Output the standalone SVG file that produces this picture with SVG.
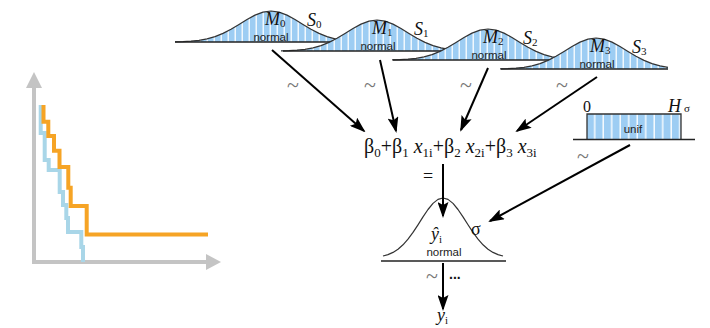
<svg xmlns="http://www.w3.org/2000/svg" xmlns:xlink="http://www.w3.org/1999/xlink" width="710" height="328" viewBox="0 0 710 328">
<style>
.curve{fill:none;stroke:#333;stroke-width:1.2;stroke-linejoin:round}
.bfill{fill:url(#stripes);stroke:none}
.base{stroke:#222;stroke-width:1.4}
.it{font-family:"Liberation Serif",serif;font-style:italic;font-size:18px;fill:#111}
.sub{font-family:"Liberation Serif",serif;font-style:normal;font-size:11px;fill:#111}
.lbl{font-family:"Liberation Sans",Arial,sans-serif;font-size:11.5px;fill:#222;text-anchor:middle}
.tl{font-family:"Liberation Serif",serif;font-size:22px;fill:#777;text-anchor:middle}
.arr{stroke:#000;stroke-width:2;fill:none;marker-end:url(#ah)}
.ax{stroke:#c4c4c4;stroke-width:4;fill:none}
</style>
<defs>
<pattern id="stripes" width="7" height="40" patternUnits="userSpaceOnUse"><rect width="7" height="40" fill="#9dcdf3"/><rect x="5.5" width="1.5" height="40" fill="#fff" opacity="0.85"/></pattern>
<pattern id="stripes2" x="587" width="8.5" height="40" patternUnits="userSpaceOnUse"><rect width="8.5" height="40" fill="#9dcdf3"/><rect x="7" width="1.5" height="40" fill="#fff" opacity="0.9"/></pattern>
<path id="bc" d="M-96,-0.2 L-88,-0.4 L-80,-0.9 L-72,-1.7 L-64,-3.2 L-56,-5.4 L-48,-8.6 L-40,-12.7 L-32,-17.5 L-24,-22.5 L-16,-26.9 L-8,-29.9 L0,-31 L8,-29.9 L16,-26.9 L24,-22.5 L32,-17.5 L40,-12.7 L48,-8.6 L56,-5.4 L64,-3.2 L72,-1.7"/>
<path id="bf" d="M-96,-0.2 L-88,-0.4 L-80,-0.9 L-72,-1.7 L-64,-3.2 L-56,-5.4 L-48,-8.6 L-40,-12.7 L-32,-17.5 L-24,-22.5 L-16,-26.9 L-8,-29.9 L0,-31 L8,-29.9 L16,-26.9 L24,-22.5 L32,-17.5 L40,-12.7 L48,-8.6 L56,-5.4 L64,-3.2 L72,-1.7 L72,0 L-96,0 Z"/>
<marker id="ah" viewBox="0 0 16 11" refX="14" refY="5.5" markerWidth="16" markerHeight="11" markerUnits="userSpaceOnUse" orient="auto"><path d="M0,0 L16,5.5 L0,11 L3,5.5 Z" fill="#000"/></marker>
</defs>

<g id="chart">
<line class="ax" x1="34" y1="264" x2="34" y2="86"/>
<polygon points="34,72 26,88 42,88" fill="#c4c4c4"/>
<line class="ax" x1="32" y1="262" x2="208" y2="262"/>
<polygon points="221,262 206,254 206,270" fill="#c4c4c4"/>
<path d="M40.7,105 V133 H44.7 V160 H48.7 V170 H59.7 V192 H63 V205 H66.3 V218 H68 V232 H81.3 V247 H83 V262" fill="none" stroke="#a9d6e8" stroke-width="4"/>
<path d="M43.5,105 V121.7 H48.3 V136 H54 V150.7 H59.5 V167 H68.3 V187.7 H70.7 V206 H86.7 V234.5 H208" fill="none" stroke="#f6a425" stroke-width="4"/>
</g>

<g id="bell0">
<use xlink:href="#bf" class="bfill" transform="translate(271,42)"/>
<use xlink:href="#bc" class="curve" transform="translate(271,42)"/>
<line class="base" x1="175" y1="42" x2="343" y2="42"/>
<text class="it" x="265" y="25">M<tspan class="sub" dy="2">0</tspan></text>
<text class="lbl" x="271" y="40.5">normal</text>
<text class="it" x="307" y="26">S<tspan class="sub" dy="2">0</tspan></text>
</g>
<g id="bell1">
<use xlink:href="#bf" class="bfill" transform="translate(377,51)"/>
<use xlink:href="#bc" class="curve" transform="translate(377,51)"/>
<line class="base" x1="283" y1="51" x2="449" y2="51"/>
<text class="it" x="372" y="34">M<tspan class="sub" dy="2">1</tspan></text>
<text class="lbl" x="378" y="49.5">normal</text>
<text class="it" x="414" y="35">S<tspan class="sub" dy="2">1</tspan></text>
</g>
<g id="bell2">
<use xlink:href="#bf" class="bfill" transform="translate(488,60)"/>
<use xlink:href="#bc" class="curve" transform="translate(488,60)"/>
<line class="base" x1="393" y1="60" x2="560" y2="60"/>
<text class="it" x="483" y="43">M<tspan class="sub" dy="2">2</tspan></text>
<text class="lbl" x="489" y="58.5">normal</text>
<text class="it" x="523" y="44">S<tspan class="sub" dy="2">2</tspan></text>
</g>
<g id="bell3">
<use xlink:href="#bf" class="bfill" transform="translate(596,69)"/>
<use xlink:href="#bc" class="curve" transform="translate(596,69)"/>
<line class="base" x1="501" y1="69" x2="668" y2="69"/>
<text class="it" x="590" y="52">M<tspan class="sub" dy="2">3</tspan></text>
<text class="lbl" x="597" y="67.5">normal</text>
<text class="it" x="632" y="53">S<tspan class="sub" dy="2">3</tspan></text>
</g>

<g id="unif">
<rect x="587" y="114" width="94" height="25" fill="url(#stripes2)"/>
<path d="M587,139 V114 H681 V139" fill="none" stroke="#333" stroke-width="1.3"/>
<line class="base" x1="573" y1="139.5" x2="695" y2="139.5"/>
<text x="583" y="112" font-family="Liberation Serif,serif" font-size="16" fill="#111">0</text>
<text class="it" x="668" y="112">H</text>
<text x="684" y="112" font-family="Liberation Serif,serif" font-size="11" fill="#111">σ</text>
<text class="lbl" x="633" y="133">unif</text>
</g>

<g id="formula">
<text x="364" y="153" font-family="Liberation Serif,serif" font-size="20" fill="#111">β<tspan font-size="13" dy="4">0</tspan><tspan dy="-4">+β</tspan><tspan font-size="13" dy="4">1</tspan><tspan dy="-4" font-style="italic"> x</tspan><tspan font-size="13" dy="4">1i</tspan><tspan dy="-4">+β</tspan><tspan font-size="13" dy="4">2</tspan><tspan dy="-4" font-style="italic"> x</tspan><tspan font-size="13" dy="4">2i</tspan><tspan dy="-4">+β</tspan><tspan font-size="13" dy="4">3</tspan><tspan dy="-4" font-style="italic"> x</tspan><tspan font-size="13" dy="4">3i</tspan></text>
<text x="428" y="182" font-family="Liberation Serif,serif" font-size="18" fill="#111" text-anchor="middle">=</text>
</g>

<g id="likelihood">
<polyline class="curve" points="383,256 388,254.6 393,252.4 398,249.2 403,244.8 408,239.2 413,232.4 418,224.8 423,216.9 428,209.5 433,203.4 438,199.4 443,198 448,199.4 453,203.4 458,209.5 463,216.9 468,224.8 473,232.4 478,239.2 483,244.8 488,249.2 493,252.4 498,254.6 503,256"/>
<line class="base" x1="381" y1="261" x2="506" y2="261"/>
<text class="it" x="431" y="240">ŷ<tspan class="sub" dy="3">i</tspan></text>
<text x="471" y="235" font-family="Liberation Serif,serif" font-size="18" fill="#111">σ</text>
<text class="lbl" x="444" y="255.5">normal</text>
</g>

<g id="yi">
<text class="it" x="437" y="321">y<tspan class="sub" dy="3">i</tspan></text>
</g>

<g id="connectors">
<line class="arr" x1="272" y1="50" x2="364" y2="131"/>
<line class="arr" x1="380" y1="60" x2="396" y2="131"/>
<line class="arr" x1="488" y1="68" x2="461" y2="130"/>
<line class="arr" x1="597" y1="77" x2="517" y2="131"/>
<line class="arr" x1="630" y1="145" x2="490" y2="221"/>
<line class="arr" x1="443" y1="164" x2="443" y2="216"/>
<line class="arr" x1="443" y1="263" x2="443" y2="309"/>
<text class="tl" x="293" y="92">~</text>
<text class="tl" x="370" y="92">~</text>
<text class="tl" x="466" y="92">~</text>
<text class="tl" x="562" y="92">~</text>
<text class="tl" x="583" y="163">~</text>
<text class="tl" x="432" y="283">~</text>
<text x="449" y="279" font-family="Liberation Sans,Arial,sans-serif" font-size="14" font-weight="bold" fill="#111">...</text>
</g>
</svg>
